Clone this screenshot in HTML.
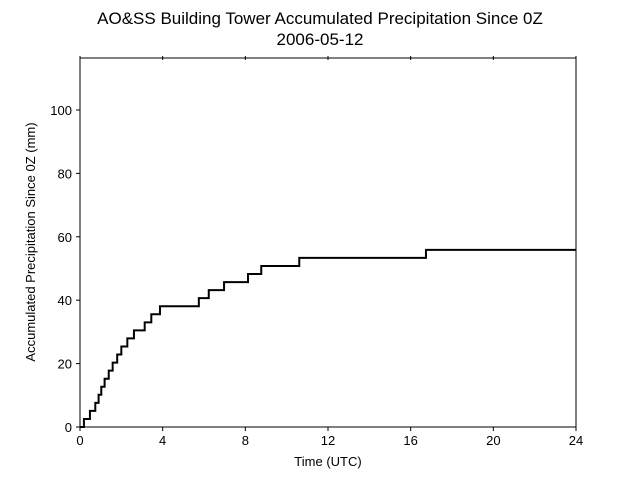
<!DOCTYPE html>
<html><head><meta charset="utf-8"><style>body{margin:0;background:#fff}svg{display:block;font-family:"Liberation Sans","DejaVu Sans",sans-serif}</style></head>
<body>
<svg id="chart" width="640" height="480">
<text x="320" y="24" font-size="17" text-anchor="middle">AO&amp;SS Building Tower Accumulated Precipitation Since 0Z</text>
<text x="320" y="45" font-size="17" text-anchor="middle">2006-05-12</text>
<g id="axes"></g>
<text x="328" y="466" font-size="13" text-anchor="middle">Time (UTC)</text>
<text transform="translate(35,242) rotate(-90)" font-size="13" text-anchor="middle">Accumulated Precipitation Since 0Z (mm)</text>
</svg>
<script>
const stepTimes=[0.19,0.48,0.74,0.9,1.03,1.19,1.39,1.58,1.8,2.0,2.29,2.61,3.13,3.45,3.87,5.75,6.23,6.97,8.13,8.77,10.61,16.74];
const stepValues=[2.54,5.08,7.62,10.16,12.7,15.24,17.78,20.32,22.86,25.4,27.94,30.48,33.02,35.56,38.1,40.64,43.18,45.72,48.26,50.8,53.34,55.88];
const xTicks=[0,4,8,12,16,20,24];
const yTicks=[0,20,40,60,80,100];
const X0=80,X1=576,Y0=427,Y1=58,xMax=24,yMax=116.4;
const sx=t=>X0+(X1-X0)*t/xMax, sy=v=>Y0-(Y0-Y1)*v/yMax;
const NS="http://www.w3.org/2000/svg", g=document.getElementById('axes');
function mk(tag,a){const e=document.createElementNS(NS,tag);for(const k in a)e.setAttribute(k,a[k]);g.appendChild(e);return e;}
const frame=mk('rect',{x:X0,y:Y1,width:X1-X0,height:Y0-Y1,fill:'none',stroke:'#000','stroke-width':1});


xTicks.forEach(t=>{
 const l=mk('line',{x1:sx(t),x2:sx(t),y1:Y0,y2:Y0+4,stroke:'#000'});
 
 
 const l2=mk('line',{x1:sx(t),x2:sx(t),y1:Y1-2,y2:Y1+2,stroke:'#000'});
 
 
 const tx=mk('text',{x:sx(t),y:Y0+18,'font-size':13,'text-anchor':'middle'});tx.textContent=t;
 
 
});
yTicks.forEach(v=>{
 const l=mk('line',{x1:X0-4,x2:X0,y1:sy(v),y2:sy(v),stroke:'#000'});
 
 
 const tx=mk('text',{x:X0-8,y:sy(v)+5,'font-size':13,'text-anchor':'end'});tx.textContent=v;
 
 
});
let d='M'+sx(0)+','+sy(0), prev=0;
stepTimes.forEach((t,i)=>{d+=' H'+sx(t)+' V'+sy(stepValues[i]);});
d+=' H'+sx(xMax);
const p=mk('path',{d:d,fill:'none',stroke:'#000','stroke-width':2});


</script>
</body></html>
